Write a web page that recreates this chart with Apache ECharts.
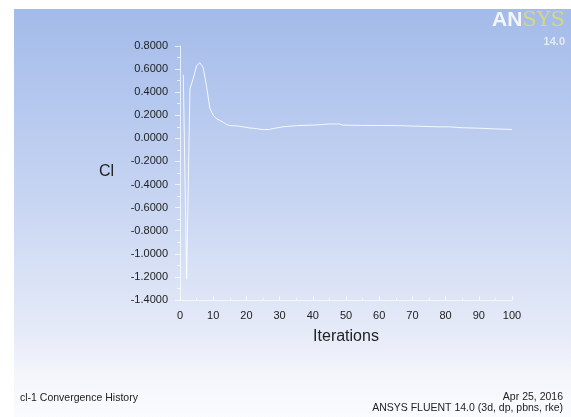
<!DOCTYPE html>
<html>
<head>
<meta charset="utf-8">
<script src="https://cdn.jsdelivr.net/npm/echarts@6/dist/echarts.min.js"></script>
<style>
  html, body { margin: 0; padding: 0; background: #fff; }
  #chart { width: 571px; height: 417px; }
</style>
</head>
<body>
<div id="chart"></div>
<script>
// Cl convergence history
const iterations = [1, 2, 3, 4, 5, 6, 7, 8, 9, 10, 11, 12, 13, 14, 15, 17, 19, 21, 23, 25, 27, 29, 31, 35, 40, 43, 45, 48, 49, 55, 60, 66, 72, 78, 81, 85, 90, 95, 100]
const clValues = [0.55, -1.22, 0.43, 0.52, 0.63, 0.655, 0.61, 0.45, 0.26, 0.20, 0.17, 0.155, 0.14, 0.12, 0.11, 0.108, 0.10, 0.09, 0.085, 0.075, 0.078, 0.09, 0.10, 0.11, 0.115, 0.12, 0.125, 0.125, 0.115, 0.112, 0.112, 0.11, 0.105, 0.10, 0.10, 0.092, 0.088, 0.082, 0.077]
const xTicks = [0, 10, 20, 30, 40, 50, 60, 70, 80, 90, 100]
const yTicks = [-1.4, -1.2, -1.0, -0.8, -0.6, -0.4, -0.2, 0, 0.2, 0.4, 0.6, 0.8]

const chart = echarts.init(document.getElementById('chart'))
const font = 'Liberation Sans, Arial, sans-serif'
const axisWhite = 'rgba(255,255,255,0.7)'

const option = {
  animation: false,
  textStyle: { fontFamily: font },
  grid: { left: 180, right: 59, top: 46, bottom: 117 },
  graphic: [
    {
      type: 'rect',
      z: -10,
      shape: { x: 14, y: 9, width: 557, height: 408 },
      style: {
        fill: new echarts.graphic.LinearGradient(0, 0, 0, 1, [
          { offset: 0, color: '#a3bbea' },
          { offset: 0.45, color: '#c6d4f2' },
          { offset: 0.8, color: '#e6ebf8' },
          { offset: 0.9, color: '#f5f6fc' },
          { offset: 1, color: '#fafbfe' },
        ]),
      },
    },
    {
      type: 'text', right: 6, top: 10,
      style: {
        text: '{a|AN}{b|SYS}',
        rich: {
          a: { fill: '#f4f6fb', font: 'bold 21px ' + font },
          b: { fill: '#d9d878', font: '21px DejaVu Serif, serif' },
        },
      },
    },
    {
      type: 'text', right: 6, top: 36,
      style: { text: '14.0', fill: '#e4e9f4', font: 'bold 11px ' + font },
    },
    {
      type: 'text', left: 99, top: 164,
      style: { text: 'Cl', fill: '#222', font: '16px ' + font },
    },
    {
      type: 'text', left: 20, top: 393,
      style: { text: 'cl-1 Convergence History', fill: '#222', font: '10.5px ' + font },
    },
    {
      type: 'text', right: 8, top: 392,
      style: { text: 'Apr 25, 2016', fill: '#222', font: '10.5px ' + font, align: 'right' },
    },
    {
      type: 'text', right: 8, top: 403,
      style: { text: 'ANSYS FLUENT 14.0 (3d, dp, pbns, rke)', fill: '#222', font: '10.5px ' + font, align: 'right' },
    },
  ],
  xAxis: {
    type: 'value',
    min: xTicks[0],
    max: xTicks[xTicks.length - 1],
    interval: 10,
    name: 'Iterations',
    nameLocation: 'middle',
    nameGap: 29,
    nameTextStyle: { color: '#222', fontSize: 16, fontFamily: font },
    axisLine: { show: true, onZero: false, lineStyle: { color: axisWhite, width: 1 } },
    axisTick: { show: true, inside: true, length: 4, lineStyle: { color: axisWhite } },
    minorTick: { show: true, splitNumber: 2, length: 2, lineStyle: { color: axisWhite } },
    splitLine: { show: false },
    axisLabel: { color: '#222', fontSize: 11, margin: 10, fontFamily: font },
  },
  yAxis: {
    type: 'value',
    min: yTicks[0],
    max: yTicks[yTicks.length - 1],
    interval: 0.2,
    axisLine: { show: true, onZero: false, lineStyle: { color: axisWhite, width: 1 } },
    axisTick: { show: true, length: 5, lineStyle: { color: axisWhite } },
    minorTick: { show: true, splitNumber: 2, length: 3, lineStyle: { color: axisWhite } },
    splitLine: { show: false },
    axisLabel: {
      color: '#222',
      fontSize: 11,
      margin: 12,
      fontFamily: font,
      formatter: v => v.toFixed(4),
    },
  },
  series: [
    {
      type: 'line',
      data: iterations.map((it, i) => [it, clValues[i]]),
      showSymbol: false,
      smooth: false,
      lineStyle: { color: 'rgba(255,255,255,0.85)', width: 1 },
    },
  ],
}

chart.setOption(option)
</script>
</body>
</html>
